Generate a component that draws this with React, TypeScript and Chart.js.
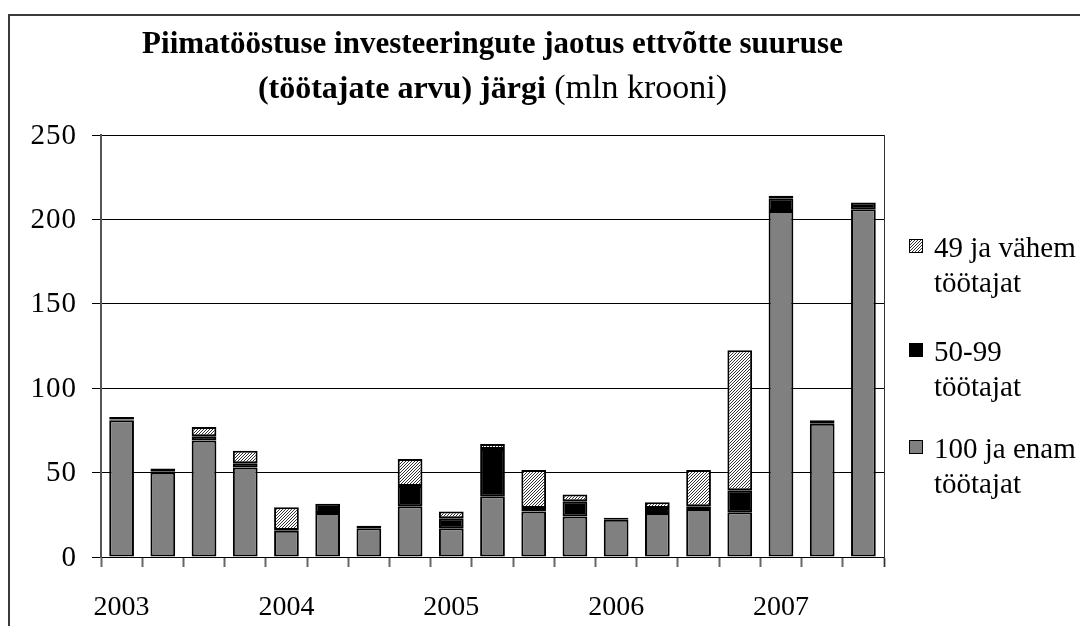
import React, { useEffect, useRef } from 'react';
import { Chart, registerables } from 'chart.js';

Chart.register(...registerables);

// Quarterly categories 2003 Q1 .. 2007 Q3 (year label on first quarter)
const quarters = ['2003', '', '', '', '2004', '', '', '', '2005', '', '', '', '2006', '', '', '', '2007', '', ''];
// 100 ja enam töötajat (gray, bottom)
const large = [81, 50, 69, 53, 15.5, 26, 17, 30, 17, 36, 27, 24, 22, 26, 28.5, 26.5, 205, 79, 206];
// 50-99 töötajat (black, middle)
const medium = [0.5, 0.5, 2.5, 2.5, 0.5, 5.5, 1.5, 12, 6, 28, 2, 9, 1.2, 3, 1.5, 13, 7.5, 2, 4];
// 49 ja vähem töötajat (hatched, top)
const small = [1.5, 2, 5.5, 7.5, 13.5, 0, 0, 16, 4, 3, 22.5, 4, 0, 3.5, 21.5, 83, 1.5, 0, 0];

const legendLabels = [
  ['49 ja vähem', 'töötajat'],
  ['50-99', 'töötajat'],
  ['100 ja enam', 'töötajat'],
];
const titleLine1 = 'Piimatööstuse investeeringute jaotus ettvõtte suuruse';
const titleLine2Bold = '(töötajate arvu) järgi';
const titleLine2Normal = ' (mln krooni)';
const yMax = 250;
const yStep = 50;

const FONT = '"Liberation Serif", "Times New Roman", serif';

function makeHatch(): CanvasPattern | string {
  const c = document.createElement('canvas');
  c.width = 3;
  c.height = 3;
  const g = c.getContext('2d');
  if (!g) return '#bbb';
  g.fillStyle = '#ffffff';
  g.fillRect(0, 0, 3, 3);
  g.fillStyle = '#333333';
  for (let i = 0; i < 3; i++) g.fillRect(2 - i, i, 1, 1);
  const p = g.createPattern(c, 'repeat');
  return p || '#bbb';
}

export default function App() {
  const ref = useRef<HTMLCanvasElement>(null);

  useEffect(() => {
    const canvas = ref.current;
    if (!canvas) return;
    const hatch = makeHatch();
    const fills = [hatch, '#000000', '#808080'];

    const decor = {
      id: 'decor',
      beforeDraw(chart: any) {
        const ctx = chart.ctx;
        ctx.save();
        ctx.fillStyle = '#ffffff';
        ctx.fillRect(0, 0, chart.width, chart.height);
        ctx.restore();
      },
      afterDraw(chart: any) {
        const { ctx, chartArea } = chart;
        ctx.save();
        // outer frame
        ctx.strokeStyle = '#3a3a3a';
        ctx.lineWidth = 2;
        ctx.beginPath();
        ctx.moveTo(9, chart.height);
        ctx.lineTo(9, 15);
        ctx.lineTo(chart.width, 15);
        ctx.stroke();
        // right border of plot area
        ctx.strokeStyle = '#333';
        ctx.lineWidth = 1;
        ctx.beginPath();
        ctx.moveTo(chartArea.right + 0.5, chartArea.top);
        ctx.lineTo(chartArea.right + 0.5, chartArea.bottom + 10);
        ctx.stroke();

        // title
        const cx = (chartArea.left + chartArea.right) / 2;
        ctx.fillStyle = '#000';
        ctx.textBaseline = 'alphabetic';
        ctx.textAlign = 'center';
        ctx.font = `bold 31px ${FONT}`;
        ctx.fillText(titleLine1, cx, 53);
        const boldFont = `bold 32px ${FONT}`;
        const normalFont = `34px ${FONT}`;
        ctx.font = boldFont;
        const w1 = ctx.measureText(titleLine2Bold).width;
        ctx.font = normalFont;
        const w2 = ctx.measureText(titleLine2Normal).width;
        const x0 = cx - (w1 + w2) / 2;
        ctx.textAlign = 'left';
        ctx.font = boldFont;
        ctx.fillText(titleLine2Bold, x0, 98);
        ctx.font = normalFont;
        ctx.fillText(titleLine2Normal, x0 + w1, 98);

        // y tick labels (drawn with Excel-like spacing)
        const yScale = chart.scales.y;
        ctx.font = `29px ${FONT}`;
        ctx.textAlign = 'right';
        ctx.textBaseline = 'middle';
        (ctx as any).letterSpacing = '1px';
        yScale.ticks.forEach((t: any) => {
          const py = yScale.getPixelForValue(t.value);
          ctx.fillText(String(t.value), 77, py + 1);
        });
        (ctx as any).letterSpacing = '0px';

        // legend
        ctx.textAlign = 'left';
        ctx.textBaseline = 'alphabetic';
        const baselines = [257, 361, 458];
        ctx.font = `29px ${FONT}`;
        legendLabels.forEach((lines, i) => {
          const b = baselines[i];
          ctx.fillStyle = fills[i] as any;
          ctx.fillRect(909, b - 18, 14, 14);
          ctx.strokeStyle = '#000';
          ctx.lineWidth = 1;
          ctx.strokeRect(909.5, b - 17.5, 13, 13);
          ctx.fillStyle = '#000';
          lines.forEach((t, j) => {
            ctx.fillText(t, 934, b + j * 35);
          });
        });
        ctx.restore();
      },
    };

    const chart = new Chart(canvas, {
      type: 'bar',
      data: {
        labels: quarters,
        datasets: [
          { label: '100 ja enam töötajat', data: large, backgroundColor: '#808080', borderColor: '#000', borderWidth: 2, borderSkipped: false },
          { label: '50-99 töötajat', data: medium, backgroundColor: '#000000', borderColor: '#000', borderWidth: 2, borderSkipped: false },
          { label: '49 ja vähem töötajat', data: small, backgroundColor: hatch as any, borderColor: '#000', borderWidth: 2, borderSkipped: false },
        ],
      },
      options: {
        responsive: false,
        animation: false,
        devicePixelRatio: 1,
        layout: { padding: { left: 0, right: 196, top: 135, bottom: 0 } },
        datasets: { bar: { barPercentage: 0.6, categoryPercentage: 1 } },
        plugins: {
          legend: { display: false },
          title: { display: false },
          tooltip: { enabled: false },
        },
        scales: {
          x: {
            stacked: true,
            offset: true,
            grid: {
              offset: true,
              drawOnChartArea: false,
              drawTicks: true,
              tickLength: 10,
              tickColor: '#666',
              tickWidth: 2,
            },
            border: { display: true, color: '#000', width: 1 },
            ticks: {
              autoSkip: false,
              maxRotation: 0,
              minRotation: 0,
              padding: 24,
              color: '#000',
              font: { family: FONT, size: 28 },
            },
            afterFit(scale: any) {
              scale.height = 69;
            },
          },
          y: {
            stacked: true,
            min: 0,
            max: yMax,
            ticks: {
              stepSize: yStep,
              padding: 15,
              color: 'rgba(0,0,0,0)',
              font: { family: FONT, size: 29 },
            },
            grid: {
              color: '#000',
              lineWidth: 1,
              drawTicks: true,
              tickLength: 9,
              tickColor: '#000',
            },
            border: { display: true, color: '#555', width: 2 },
            afterFit(scale: any) {
              scale.width = 101;
            },
          },
        },
      },
      plugins: [decor],
    } as any);

    return () => chart.destroy();
  }, []);

  return (
    <div style={{ position: 'absolute', left: 0, top: 0, width: 1080, height: 626, background: '#fff' }}>
      <canvas ref={ref} width={1080} height={626} style={{ display: 'block', width: 1080, height: 626 }} />
    </div>
  );
}
